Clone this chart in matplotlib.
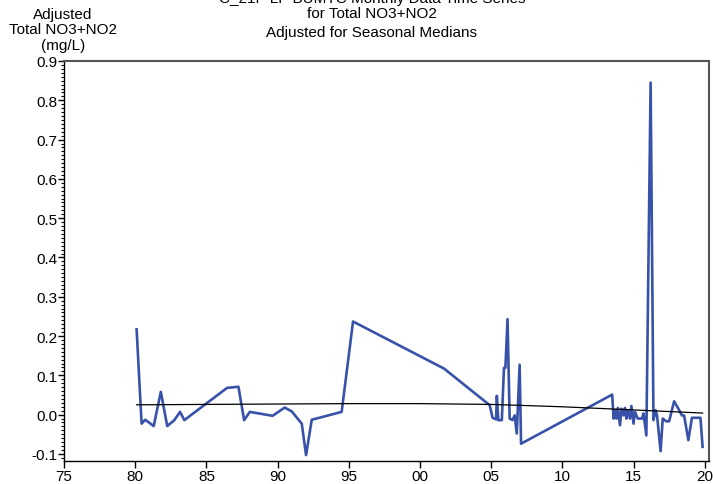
import matplotlib.pyplot as plt
import numpy as np
from matplotlib.ticker import MultipleLocator, FuncFormatter

plt.rcParams['font.family'] = ['Liberation Sans', 'DejaVu Sans']

# adjusted monthly values (decimal year, mg/L)
years = [1980.1, 1980.45, 1980.7, 1981.3, 1981.8, 1982.25, 1982.75, 1983.15, 1983.45,
         1986.45, 1987.25, 1987.65, 1988.05, 1989.65, 1990.5, 1991.0, 1991.7, 1992.0,
         1992.4, 1994.5, 1995.3, 2001.7, 2004.9, 2005.1, 2005.35, 2005.4, 2005.5,
         2005.75, 2005.9, 2006.0, 2006.15, 2006.3, 2006.5, 2006.65, 2006.8, 2007.0,
         2007.1, 2013.5, 2013.6, 2013.7, 2013.8, 2013.9, 2014.05, 2014.15, 2014.3,
         2014.4, 2014.5, 2014.6, 2014.75, 2014.85, 2015.0, 2015.1, 2015.2, 2015.3,
         2015.6, 2015.7, 2015.9, 2016.2, 2016.4, 2016.55, 2016.65, 2016.9, 2017.05,
         2017.3, 2017.5, 2017.85, 2018.15, 2018.4, 2018.55, 2018.85, 2019.1, 2019.7,
         2019.85]
values = [0.217, -0.023, -0.013, -0.029, 0.058, -0.029, -0.014, 0.007, -0.014,
          0.068, 0.071, -0.014, 0.007, -0.003, 0.018, 0.008, -0.023, -0.103,
          -0.013, 0.007, 0.237, 0.117, 0.024, -0.008, -0.012, 0.048, -0.014,
          -0.014, 0.119, 0.119, 0.243, -0.010, -0.014, -0.002, -0.048, 0.127,
          -0.074, 0.051, -0.010, 0.011, -0.010, 0.017, -0.027, 0.015, -0.002,
          0.017, -0.010, 0.011, -0.010, 0.022, -0.023, 0.007, -0.002, -0.010,
          -0.010, 0.003, -0.053, 0.845, -0.014, 0.011, -0.002, -0.093, -0.010,
          -0.017, -0.017, 0.034, 0.015, -0.002, -0.002, -0.065, -0.008, -0.008,
          -0.082]

# smooth trend
trend_years = [1980.1, 1985, 1990, 1995, 2000, 2005, 2010, 2015, 2019.85]
trend_values = [0.025, 0.026, 0.027, 0.028, 0.028, 0.026, 0.020, 0.012, 0.004]

title_lines = ['C_21F-LF-BUMTC Monthly Data Time Series', 'for Total NO3+NO2',
               'Adjusted for Seasonal Medians']

fig = plt.figure(figsize=(7.13, 4.85), dpi=100)
ax = fig.add_axes([64 / 713, 1 - 462 / 485, 645 / 713, 400 / 485])

ax.plot(years, values, color='#3752a8', lw=1.9, zorder=3)
ax.plot(trend_years, trend_values, color='black', lw=0.9, zorder=4)

ax.set_xlim(1975, 2020.3)
ax.set_ylim(-0.118, 0.9)

ax.xaxis.set_major_locator(MultipleLocator(5))
ax.xaxis.set_major_formatter(FuncFormatter(lambda v, p: '%02d' % (int(round(v)) % 100)))
ax.yaxis.set_major_locator(MultipleLocator(0.1))
ax.yaxis.set_minor_locator(MultipleLocator(0.01))
ax.yaxis.set_major_formatter(FuncFormatter(lambda v, p: '%.1f' % (0.0 if abs(v) < 1e-9 else v)))

ax.tick_params(axis='both', direction='out', labelsize=11, colors='black')
ax.tick_params(axis='x', length=5, width=1, pad=1)
ax.tick_params(axis='y', which='major', length=4, width=1, pad=1)
ax.tick_params(axis='y', which='minor', length=2, width=0.8)

for s in ['left', 'bottom']:
    ax.spines[s].set_color('black')
    ax.spines[s].set_linewidth(1.0)
for s in ['top', 'right']:
    ax.spines[s].set_color('#555555')
    ax.spines[s].set_linewidth(1.5)

# title lines, the first one runs off the top edge like in the original
for line, ypix in zip(title_lines, [-1, 14, 33]):
    fig.text(372 / 713, 1 - ypix / 485, line, ha='center', va='center', fontsize=11)
fig.text(63 / 713, 1 - 8 / 485, 'Adjusted\nTotal NO3+NO2\n(mg/L)',
         ha='center', va='top', fontsize=11, linespacing=1.12)

fig.savefig('out.png', dpi=100)
